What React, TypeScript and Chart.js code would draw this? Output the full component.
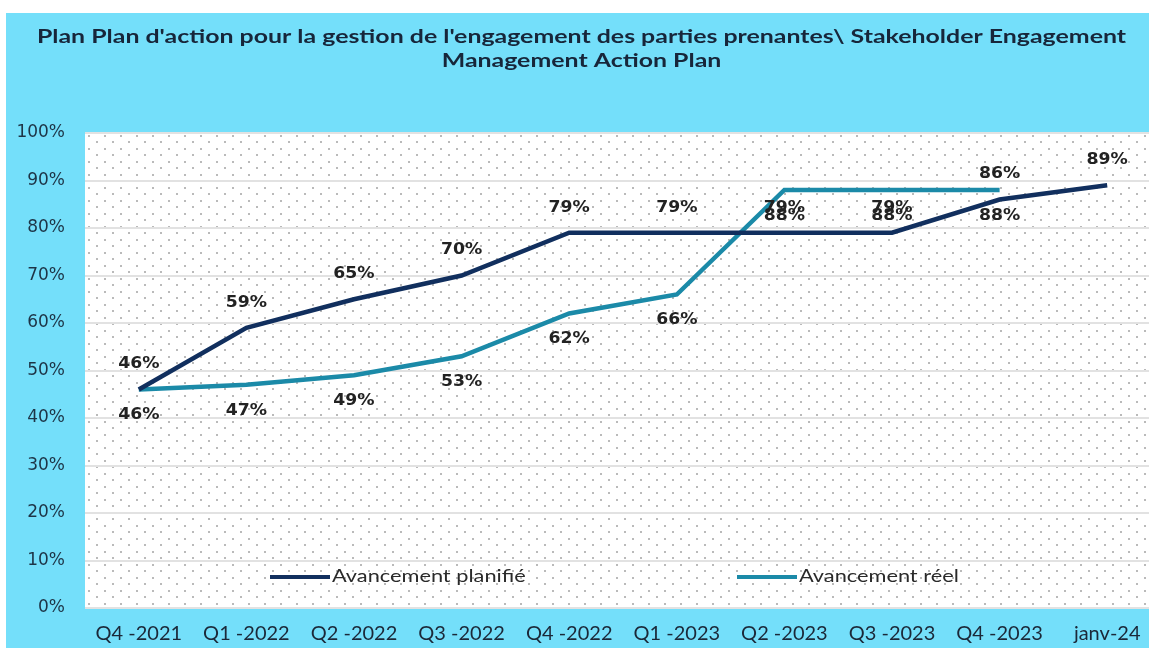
import React, { useEffect, useRef } from "react";
import { Chart, registerables } from "chart.js";

Chart.register(...registerables);

const categories = ["Q4 -2021", "Q1 -2022", "Q2 -2022", "Q3 -2022", "Q4 -2022", "Q1 -2023", "Q2 -2023", "Q3 -2023", "Q4 -2023", "janv-24"];
const plannedValues = [46, 59, 65, 70, 79, 79, 79, 79, 86, 89];
const actualValues: (number | null)[] = [46, 47, 49, 53, 62, 66, 88, 88, 88, null];
const seriesNames = ["Avancement planifié", "Avancement réel"];
const titleLines = [
  "Plan Plan d'action pour la gestion de l'engagement des parties prenantes\\ Stakeholder Engagement",
  "Management Action Plan",
];
const yTicks = [0, 10, 20, 30, 40, 50, 60, 70, 80, 90, 100];

const NAVY = "#112f5e";
const TEAL = "#1b8aa8";
const CYAN = "#74dffa";

function drawScaledText(ctx: CanvasRenderingContext2D, text: string, x: number, y: number, sx: number, align: CanvasTextAlign) {
  ctx.save();
  ctx.translate(x, y);
  ctx.scale(sx, 1);
  ctx.textAlign = align;
  ctx.fillText(text, 0, 0);
  ctx.restore();
}

const backgroundPlugin = {
  id: "bgPlugin",
  beforeDraw(chart: any) {
    const { ctx, width, height, chartArea } = chart;
    ctx.save();
    ctx.fillStyle = "#ffffff";
    ctx.fillRect(0, 0, width, height);
    ctx.fillStyle = CYAN;
    ctx.fillRect(6, 13, width - 6, height - 13);
    ctx.fillStyle = "#ffffff";
    ctx.fillRect(chartArea.left, chartArea.top, chartArea.right - chartArea.left, chartArea.bottom - chartArea.top);
    const tile = document.createElement("canvas");
    tile.width = 16;
    tile.height = 13;
    const tctx = tile.getContext("2d")!;
    tctx.fillStyle = "rgba(140,140,140,0.6)";
    tctx.fillRect(3, 2, 2, 2);
    tctx.fillRect(11, 8, 2, 2);
    const pattern = ctx.createPattern(tile, "repeat");
    if (pattern) {
      ctx.translate(chartArea.left, chartArea.top);
      ctx.fillStyle = pattern;
      ctx.fillRect(0, 0, chartArea.right - chartArea.left, chartArea.bottom - chartArea.top);
    }
    ctx.restore();
  },
};

const labelPlugin = {
  id: "labelPlugin",
  afterDatasetsDraw(chart: any) {
    const { ctx } = chart;
    ctx.save();
    ctx.font = "bold 15px 'DejaVu Sans'";
    ctx.fillStyle = "#222222";
    ctx.textBaseline = "middle";
    chart.data.datasets.forEach((ds: any, di: number) => {
      const meta = chart.getDatasetMeta(di);
      meta.data.forEach((pt: any, i: number) => {
        const v = ds.data[i];
        if (v === null || v === undefined) return;
        const dy = di === 0 ? -25 : 26;
        drawScaledText(ctx, v + "%", pt.x, pt.y + dy, 1.15, "center");
      });
    });
    ctx.restore();
  },
  afterDraw(chart: any) {
    const { ctx, width } = chart;
    ctx.save();
    // title
    ctx.fillStyle = "#17263a";
    ctx.font = "bold 19px Lato";
    ctx.textBaseline = "middle";
    drawScaledText(ctx, titleLines[0], width / 2, 37, 1.31, "center");
    drawScaledText(ctx, titleLines[1], width / 2, 61, 1.31, "center");
    // legend
    const items = [
      { x: 270, color: NAVY, label: chart.data.datasets[0].label },
      { x: 737, color: TEAL, label: chart.data.datasets[1].label },
    ];
    const ly = 577;
    items.forEach((it) => {
      ctx.strokeStyle = it.color;
      ctx.lineWidth = 4;
      ctx.lineCap = "butt";
      ctx.beginPath();
      ctx.moveTo(it.x, ly);
      ctx.lineTo(it.x + 60, ly);
      ctx.stroke();
      ctx.fillStyle = "#2a2a2a";
      ctx.font = "17px Lato";
      drawScaledText(ctx, it.label, it.x + 62, ly, 1.28, "left");
    });
    ctx.restore();
  },
};

export default function App() {
  const canvasRef = useRef<HTMLCanvasElement | null>(null);

  useEffect(() => {
    const canvas = canvasRef.current;
    if (!canvas) return;
    const chart = new Chart(canvas, {
      type: "line",
      data: {
        labels: categories,
        datasets: [
          {
            label: seriesNames[0],
            data: plannedValues,
            borderColor: NAVY,
            backgroundColor: NAVY,
            borderWidth: 4.5,
            pointRadius: 0,
            tension: 0,
          },
          {
            label: seriesNames[1],
            data: actualValues,
            borderColor: TEAL,
            backgroundColor: TEAL,
            borderWidth: 4.5,
            pointRadius: 0,
            tension: 0,
          },
        ],
      },
      options: {
        animation: false,
        responsive: false,
        maintainAspectRatio: false,
        layout: { padding: { top: 133, left: 0, right: 2, bottom: 0 } },
        plugins: {
          legend: { display: false },
          title: { display: false },
          tooltip: { enabled: false },
        },
        scales: {
          x: {
            offset: true,
            grid: { display: false, drawTicks: false },
            border: { display: false },
            ticks: {
              color: "#1b2838",
              font: { family: "Lato", size: 20 },
              padding: 14,
              maxRotation: 0,
              autoSkip: false,
            },
            afterFit: (scale: any) => {
              scale.height = 40;
            },
          },
          y: {
            min: 0,
            max: 100,
            afterBuildTicks: (scale: any) => {
              scale.ticks = yTicks.map((v) => ({ value: v }));
            },
            grid: { color: "#e2e2e2", lineWidth: 2, drawTicks: false },
            border: { display: false },
            ticks: {
              color: "#1d3446",
              font: { family: "DejaVu Sans", size: 17 },
              padding: 20,
              callback: (v: any) => v + "%",
            },
            afterFit: (scale: any) => {
              scale.width = 85;
            },
          },
        },
      },
      plugins: [backgroundPlugin, labelPlugin],
    });
    return () => chart.destroy();
  }, []);

  return (
    <div style={{ position: "fixed", left: 0, top: 0, width: 1149, height: 648, overflow: "hidden", background: "#fff" }}>
      <canvas ref={canvasRef} width={1163} height={648} style={{ display: "block", width: 1163, height: 648 }} />
    </div>
  );
}
